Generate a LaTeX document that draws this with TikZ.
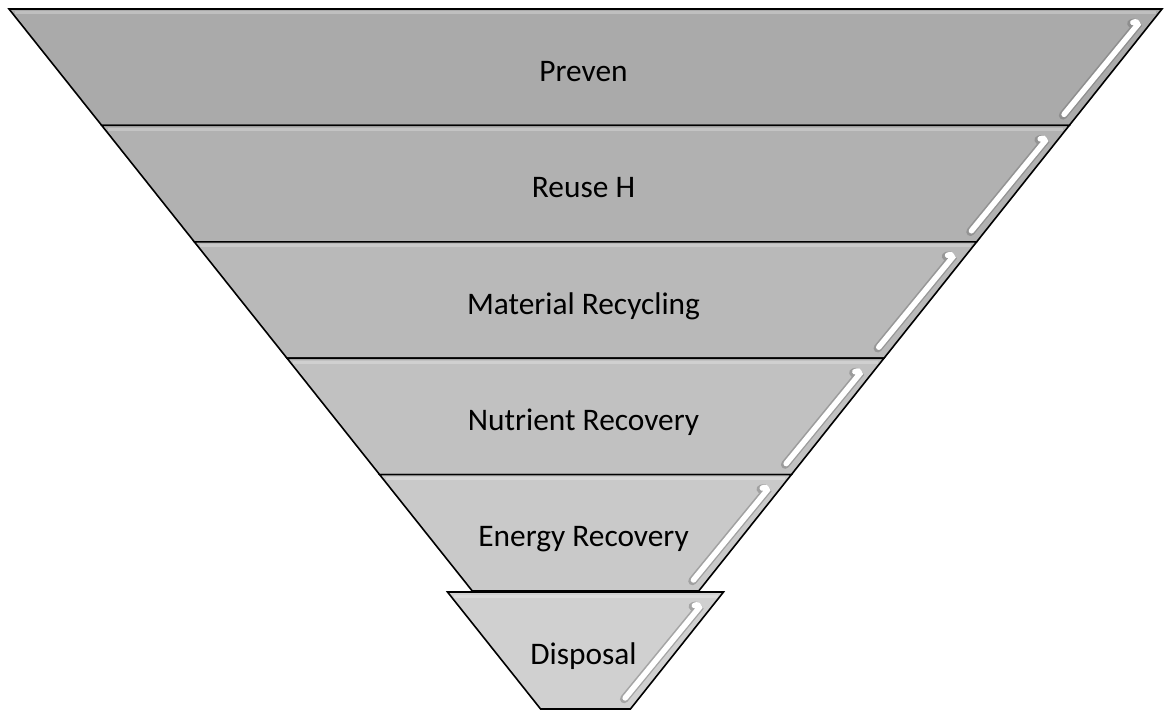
\documentclass[tikz,border=0pt]{standalone}
\usepackage{fontspec}
\setmainfont{Carlito}
\definecolor{layA}{HTML}{AAAAAA}
\definecolor{layB}{HTML}{B1B1B1}
\definecolor{layC}{HTML}{B9B9B9}
\definecolor{layD}{HTML}{C1C1C1}
\definecolor{layE}{HTML}{C9C9C9}
\definecolor{layF}{HTML}{D0D0D0}
\begin{document}
\begin{tikzpicture}[x=1bp,y=-1bp,
  layer/.style={draw=black, line width=1.6bp, line join=miter},
  lbl/.style={font=\fontsize{31.5}{38}\selectfont, anchor=base, text=black, inner sep=0pt},
  hlshadow/.style={draw=black!60, line width=8.5bp, line cap=round, opacity=0.4},
  hlstrip/.style={draw=white, line width=5.5bp, line cap=round},
  topband/.style={draw=white, line width=3bp, opacity=0.25}]
\useasboundingbox (0,0) rectangle (1169,711);
\def\cx{585.5}
\def\slp{0.796}
\foreach \ytop/\ybot/\hwt/\hwb/\col/\txt/\nm in {
  9/125.4/576.5/483.8/layA/Preven/prev,
  125.4/241.8/483.8/391.2/layB/Reuse H/reuse,
  241.8/358.2/391.2/298.5/layC/Material Recycling/matrec,
  358.2/474.6/298.5/205.9/layD/Nutrient Recovery/nutrec,
  474.6/591/205.9/113.2/layE/Energy Recovery/enrec,
  592/709/138/44.9/layF/Disposal/disp}{
  \pgfmathsetmacro\ymid{(\ytop+\ybot)/2}
  \pgfmathsetmacro\xha{\cx+\hwt-\slp*14-13}
  \pgfmathsetmacro\yha{\ytop+14}
  \pgfmathsetmacro\xhb{\cx+\hwb+\slp*11-14}
  \pgfmathsetmacro\yhb{\ybot-11}
  \fill[\col] (\cx-\hwt,\ytop) -- (\cx+\hwt,\ytop) -- (\cx+\hwb,\ybot) -- (\cx-\hwb,\ybot) -- cycle;
  \draw[topband] (\cx-\hwt+6,\ytop+4) -- (\cx+\hwt-6,\ytop+4);
  \draw[hlshadow] (\xha-6.5,\yha+0.5) .. controls (\xha-3,\yha-0.5) .. (\xha-1,\yha+2.5) -- (\xhb-1,\yhb+1);
  \draw[hlstrip] (\xha-5,\yha-0.5) .. controls (\xha-1.5,\yha-1.5) .. (\xha,\yha+1.5) -- (\xhb,\yhb);
  \draw[layer] (\cx-\hwt,\ytop) -- (\cx+\hwt,\ytop) -- (\cx+\hwb,\ybot) -- (\cx-\hwb,\ybot) -- cycle;
  \node[lbl] (\nm) at (\cx-2,\ymid+14) {\txt};
}
\end{tikzpicture}
\end{document}
